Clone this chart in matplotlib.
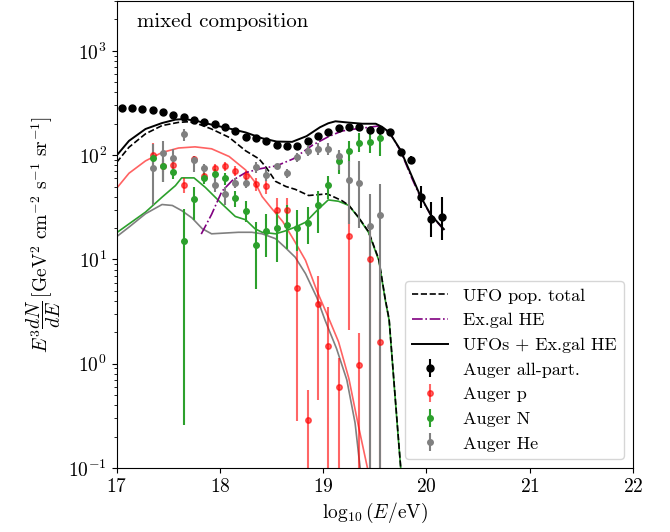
import numpy as np
import matplotlib
matplotlib.use("Agg")
import matplotlib.pyplot as plt

plt.rcParams['font.family'] = 'serif'
plt.rcParams['font.serif'] = ['cmr10']
plt.rcParams['mathtext.fontset'] = 'cm'
plt.rcParams['axes.formatter.use_mathtext'] = True
plt.rcParams['font.size'] = 14

# Auger all-particle spectrum (E^3 dN/dE)
x_all = [17.05, 17.15, 17.25, 17.35, 17.45, 17.55, 17.65, 17.75, 17.85, 17.95,
         18.05, 18.15, 18.25, 18.35, 18.45, 18.55, 18.65, 18.75, 18.85, 18.95,
         19.05, 19.15, 19.25, 19.35, 19.45, 19.55, 19.65, 19.75, 19.85, 19.95,
         20.05, 20.15]
y_all = [283, 285, 279, 268, 257, 244, 233, 215, 206, 197,
         186, 169, 150, 147, 136, 126, 121, 121, 136, 151,
         167, 183, 186, 187, 175, 175, 167, 108, 90, 40,
         24.5, 25.6]
all_elo = [2, 2, 2, 2, 2, 2, 2, 2, 2, 2,
           2, 2, 2, 2, 2, 2, 2, 2, 2, 2,
           2, 3, 3, 3, 4, 4, 5, 5, 8, 9,
           8, 10.4]
all_ehi = [2, 2, 2, 2, 2, 2, 2, 2, 2, 2,
           2, 2, 2, 2, 2, 2, 2, 2, 2, 2,
           2, 3, 3, 3, 4, 4, 5, 5, 9, 11,
           11, 14.5]

# Auger composition points (p, N, He)
x_comp = [17.35, 17.45, 17.55, 17.65, 17.75, 17.85, 17.95, 18.05, 18.15, 18.25,
          18.35, 18.45, 18.55, 18.65, 18.75, 18.85, 18.95, 19.05, 19.15, 19.25,
          19.35, 19.45, 19.55]
p_y = [101, 79, 81, 52, 91, 63, 75, 78, 71, 63,
       53, 51, 30, 30, 5.3, 0.29, 3.7, 1.47, 0.6, 16.9,
       0.97, 10.1, 1.62]
p_lo = [76, 69, 73, 43, 83, 56, 67, 70, 63, 55,
        45, 42, 23, 23, 0.28, 1e-3, 0.45, 1e-3, 1e-3, 2.1,
        1e-3, 1e-3, 1e-3]
p_hi = [130, 89, 89, 61, 99, 70, 83, 86, 79, 71,
        61, 60, 38.5, 38.5, 12, 0.56, 7.0, 3.5, 1.13, 35,
        1.95, 20, 3.1]

n_y = [94, 78, 69, 15, 37.7, 60, 65.6, 60, 38.4, 29.4,
       13.8, 18.9, 20, 21.5, 20, 22.3, 33, 52, 87, 110,
       131, 133, 147]
n_lo = [86, 55, 59, 0.26, 24, 53, 58, 52, 32, 23,
        5.2, 10.5, 9.4, 12.7, 12, 14, 18, 37.6, 66, 85,
        106, 104, 99]
n_hi = [102, 92, 76, 30.4, 49, 67, 74, 68, 45, 36.7,
        23, 27.4, 28.4, 33, 30, 32, 45.7, 63, 110, 137,
        164, 164, 184]

he_y = [75, 104, 94, 160, 89, 75, 52, 42, 54, 54,
        76.5, 65, 78, 68, 95, 110, 115, 115, 97, 58,
        54, 21, 26.5]
he_lo = [33, 55, 72, 137, 69, 67, 44, 33, 48, 48,
         68, 57, 74, 60, 85, 98, 100, 100, 72, 22,
         20, 1e-3, 1e-3]
he_hi = [129, 137, 114, 177, 99, 83, 60, 49, 60, 60,
         85, 74, 82, 73, 105, 122, 130, 130, 112, 88,
         88, 42.5, 53]

# model curves
x_tot = [17.0, 17.12, 17.28, 17.44, 17.57, 17.66, 17.79, 17.92, 18.09, 18.25,
         18.41, 18.55, 18.7, 18.84, 18.97, 19.05, 19.12, 19.25, 19.38, 19.51,
         19.57, 19.64, 19.75, 19.94, 20.04, 20.17]
y_tot = [99, 137, 178, 203, 219, 222, 211, 196, 180, 165,
         145, 135, 134, 152, 185, 202, 211, 205, 200, 200,
         187, 166, 112, 41, 27, 19.5]

x_ufo = [17.0, 17.12, 17.28, 17.44, 17.60, 17.70, 17.79, 17.92, 18.09, 18.25,
         18.38, 18.45, 18.54, 18.64, 18.73, 18.86, 19.04, 19.18, 19.25, 19.34,
         19.44, 19.54, 19.60, 19.64, 19.68, 19.73, 19.76]
y_ufo = [85, 119, 160, 192, 206, 209, 199, 178, 148, 110,
         92, 76, 56, 50, 47, 41, 42.5, 36.7, 33, 25.6,
         18.5, 10, 4.3, 2.65, 0.82, 0.19, 0.08]

x_eg = [17.82, 17.92, 18.02, 18.12, 18.25, 18.39, 18.55, 18.71, 18.9, 19.05,
        19.18, 19.31, 19.45, 19.53, 19.6, 19.66, 19.75, 19.86, 19.94, 20.04,
        20.17]
y_eg = [17.5, 27, 45, 57, 68, 74, 79, 92, 125, 150,
        170, 178, 185, 190, 178, 155, 110, 60, 40, 27,
        19.2]

x_p = [17.0, 17.12, 17.28, 17.44, 17.60, 17.76, 17.92, 18.09, 18.25, 18.34,
       18.41, 18.5, 18.61, 18.73, 18.83, 18.94, 19.05, 19.15, 19.25, 19.34,
       19.43, 19.46]
y_p = [48, 67, 88, 106, 117, 120, 115, 97, 72, 55,
       40, 31, 23, 14.6, 9.8, 5.0, 2.8, 1.62, 0.72, 0.26,
       0.1, 0.07]

x_n = [17.0, 17.12, 17.28, 17.44, 17.57, 17.63, 17.75, 17.86, 18.02, 18.15,
       18.25, 18.34, 18.41, 18.54, 18.63, 18.73, 18.83, 18.94, 19.05, 19.15,
       19.25, 19.34, 19.44, 19.54, 19.60, 19.64, 19.68, 19.73, 19.76]
y_n = [18, 21.9, 28.4, 39.5, 51, 60.5, 60.5, 49, 34.1, 25.8,
       24, 19.7, 18.2, 17.6, 18.7, 20.4, 22.7, 29.4, 37.2, 36.1,
       32.9, 25.4, 18.2, 9.8, 4.2, 2.6, 0.8, 0.185, 0.08]

x_he = [17.0, 17.12, 17.28, 17.44, 17.54, 17.63, 17.73, 17.83, 17.92, 18.05,
        18.18, 18.31, 18.41, 18.54, 18.63, 18.73, 18.83, 18.94, 19.02, 19.13,
        19.23, 19.31, 19.35, 19.37]
y_he = [16.5, 20.4, 27.4, 33.6, 32.9, 29.4, 25, 19.7, 17.6, 17.9,
        18.2, 18.2, 17.6, 15.8, 13.1, 10.5, 7.3, 4.3, 2.6, 1.4,
        0.7, 0.27, 0.12, 0.08]


def err(y, lo, hi):
    y = np.array(y)
    return [y - np.array(lo), np.array(hi) - y]


fig = plt.figure(figsize=(6.7, 5.32), dpi=100)
ax = fig.add_axes([0.174, 0.1203, 0.7705, 0.8777])

red = '#ff6262'
ax.plot(x_p, y_p, color=red, lw=1.2)
ax.plot(x_n, y_n, color='tab:green', lw=1.2)
ax.plot(x_he, y_he, color='gray', lw=1.2)
l1, = ax.plot(x_ufo, y_ufo, 'k--', lw=1.2, label='UFO pop. total')
l2, = ax.plot(x_eg, y_eg, color='purple', ls='-.', lw=1.2, label='Ex.gal HE')
l3, = ax.plot(x_tot, y_tot, 'k-', lw=1.4, label='UFOs + Ex.gal HE')

e1 = ax.errorbar(x_all, y_all, yerr=[all_elo, all_ehi], fmt='o', color='k',
                 ms=5, elinewidth=1.5, label='Auger all-part.')
e2 = ax.errorbar(x_comp, p_y, yerr=err(p_y, p_lo, p_hi), fmt='o', color='red',
                 alpha=0.6, ms=4, elinewidth=1.5, label='Auger p')
e3 = ax.errorbar(x_comp, n_y, yerr=err(n_y, n_lo, n_hi), fmt='o', color='tab:green',
                 ms=4, elinewidth=1.5, label='Auger N')
e4 = ax.errorbar(x_comp, he_y, yerr=err(he_y, he_lo, he_hi), fmt='o', color='gray',
                 ms=4, elinewidth=1.5, label='Auger He')

ax.set_yscale('log')
ax.set_xlim(17, 22)
ax.set_ylim(0.1, 3000)
ax.set_xlabel(r'$\log_{10}(E/\mathrm{eV})$')
ax.set_ylabel(r'$E^3\dfrac{dN}{dE}\,[\mathrm{GeV}^2\ \mathrm{cm}^{-2}\ \mathrm{s}^{-1}\ \mathrm{sr}^{-1}]$')
ax.text(0.04, 0.955, 'mixed composition', transform=ax.transAxes, va='center', fontsize=15)

ax.legend(handles=[l1, l2, l3, e1, e2, e3, e4], loc='lower right', fontsize=13)

plt.savefig('out.png', dpi=100)
